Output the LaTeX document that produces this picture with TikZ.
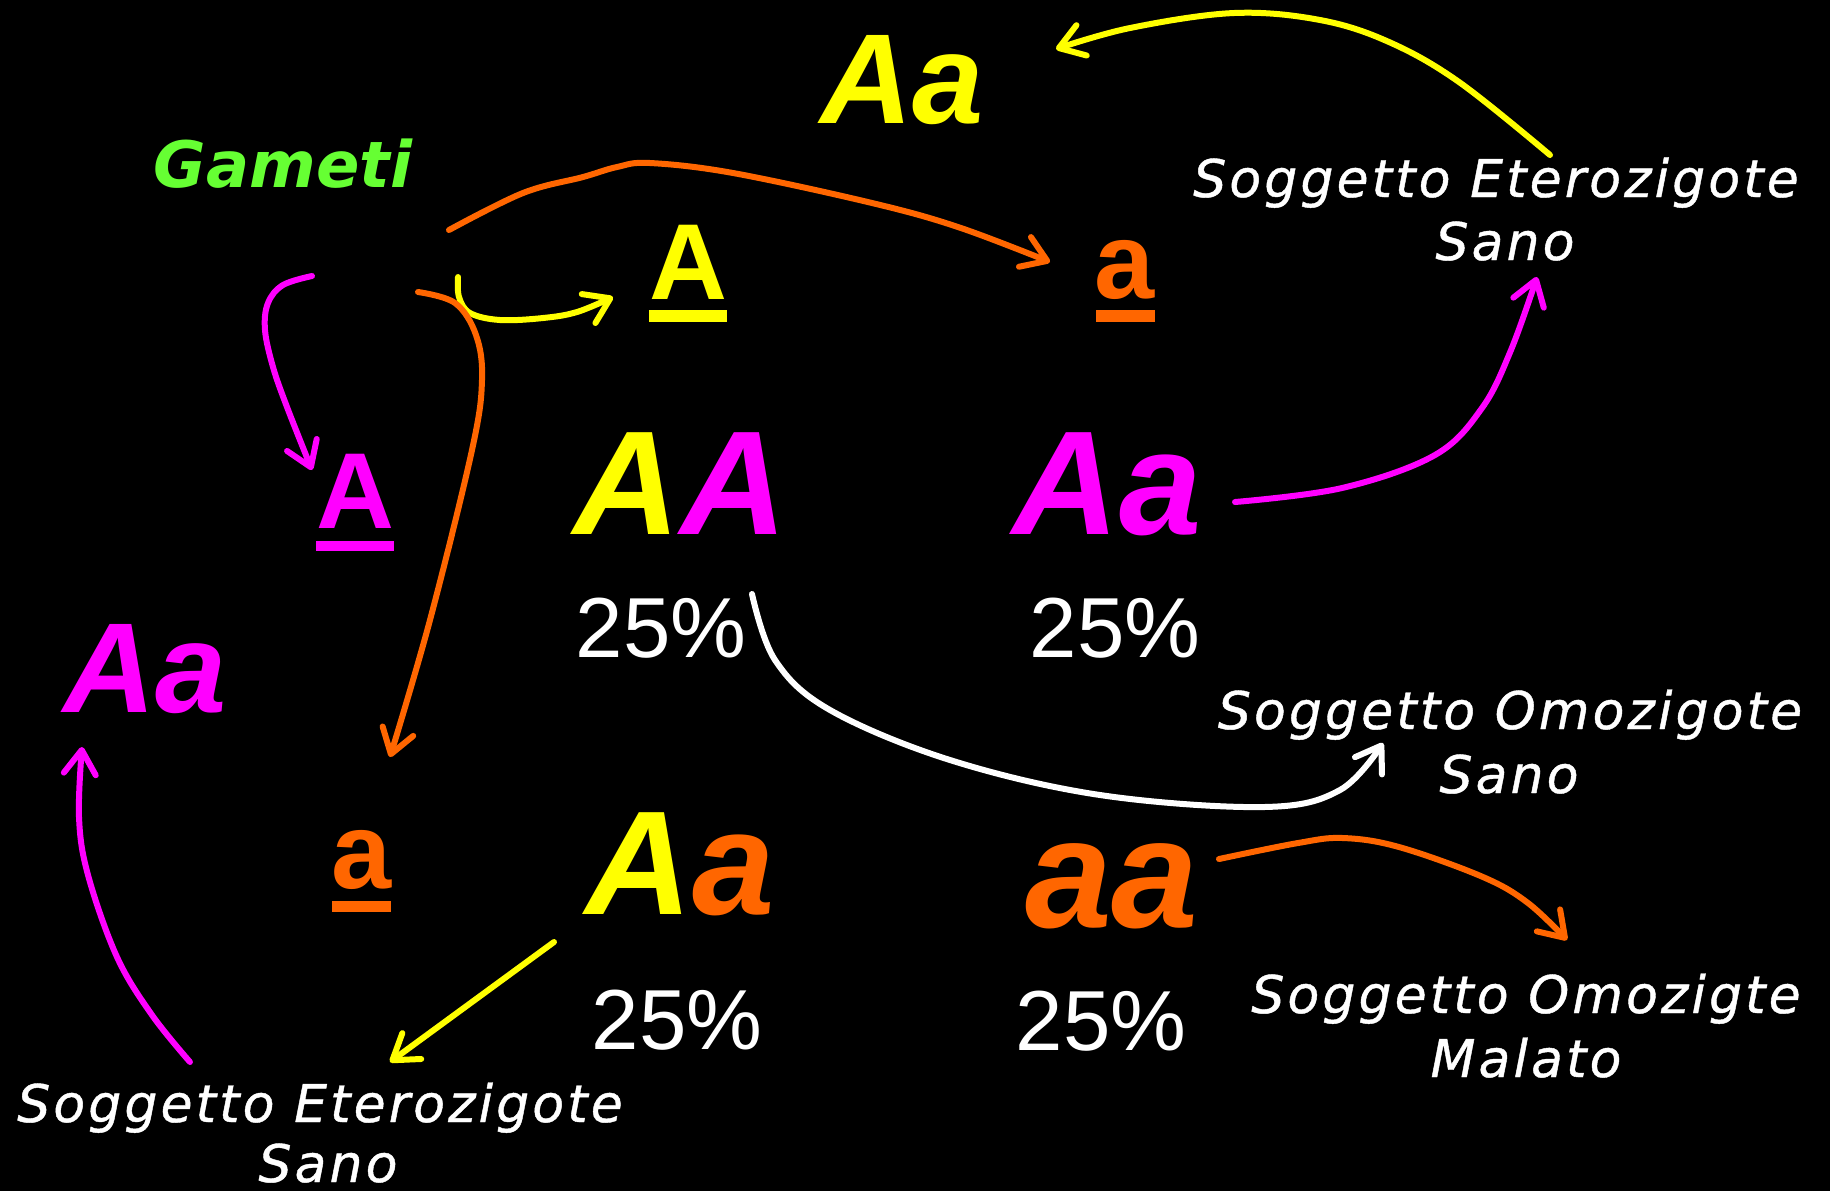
\documentclass[tikz,border=0pt]{standalone}
\usepackage{fontspec}
\setmainfont{Liberation Sans}
\newfontfamily\labfont[LetterSpace=6,FakeBold=0.8]{DejaVu Sans Oblique}
\newfontfamily\gamfont{DejaVu Sans Bold Oblique}
\usetikzlibrary{arrows.meta}
\definecolor{cyel}{HTML}{FFFF00}
\definecolor{cmag}{HTML}{FF00FF}
\definecolor{corg}{HTML}{FF6600}
\definecolor{cgrn}{HTML}{66FF33}
\tikzset{
  big/.style={font=\fontsize{74}{80}\selectfont\bfseries\itshape, inner sep=0pt, anchor=base},
  mid/.style={font=\fontsize{64}{70}\selectfont\bfseries\itshape, inner sep=0pt, anchor=base},
  pct/.style={font=\fontsize{42.6}{48}\selectfont, text=white, inner sep=0pt, anchor=base},
  gam/.style={font=\fontsize{54}{60}\selectfont\bfseries, inner sep=0pt, anchor=base},
  lab/.style={font=\labfont\fontsize{26}{32}\selectfont, text=white, inner sep=0pt, anchor=base},
  arr/.style={line width=3pt, line cap=round, line join=round,
    -{Straight Barb[length=12pt,width=16pt,line cap=round,line join=round]}}
}
\begin{document}
\begin{tikzpicture}[x=0.5pt,y=-0.5pt]
\fill[black] (0,0) rectangle (1830,1191);
\useasboundingbox (0,0) rectangle (1830,1191);

% texts
\node[mid, text=cyel] (topAa) at (902,123) {Aa};
\node[font=\gamfont\fontsize{32}{38}\selectfont, text=cgrn, inner sep=0pt, anchor=base] (gameti) at (283,187) {Gameti};
\node[lab] (l1a) at (1496,197) {Soggetto Eterozigote};
\node[lab] (l1b) at (1505,260) {Sano};

\node[gam, text=cyel] (gA) at (688,299) {A};
\fill[cyel] (649,310) rectangle (727,322);
\node[gam, text=corg] (ga) at (1125,298) {a};
\fill[corg] (1096,310) rectangle (1155,322);

\node[gam, text=cmag] (gA2) at (355,528) {A};
\fill[cmag] (316,541) rectangle (394,551);
\node[gam, text=corg] (ga2) at (362,888) {a};
\fill[corg] (332,901) rectangle (391,912);

\node[big] (AA) at (680,534) {\textcolor{cyel}{A}\textcolor{cmag}{A}};
\node[big, text=cmag] (Aa1) at (1107,534) {Aa};
\node[big] (Aa2) at (680,914) {\textcolor{cyel}{A}\textcolor{corg}{a}};
\node[font=\fontsize{78}{84}\selectfont\bfseries\itshape, inner sep=0pt, anchor=base, text=corg] (aa) at (1112,927) {aa};
\node[mid, text=cmag] (leftAa) at (145,712) {Aa};

\node[pct] (p1) at (661,657) {25\%};
\node[pct] (p2) at (1115,657) {25\%};
\node[pct] (p3) at (677,1049) {25\%};
\node[pct] (p4) at (1101,1050) {25\%};

\node[lab] (l2a) at (1510,729) {Soggetto Omozigote};
\node[lab] (l2b) at (1509,793) {Sano};
\node[lab] (l3a) at (1526,1013) {Soggetto Omozigte};
\node[lab] (l3b) at (1526,1077) {Malato};
\node[lab] (l4a) at (320,1122) {Soggetto Eterozigote};
\node[lab] (l4b) at (328,1182) {Sano};

% connector end points
\coordinate (y1s) at (1550,155); \coordinate (y1e) at (1056,49);
\coordinate (o1s) at (449,230);  \coordinate (o1e) at (1050,262);
\coordinate (m1s) at (312,276);  \coordinate (m1e) at (312,470);
\coordinate (y2s) at (458,277);  \coordinate (y2e) at (613,297);
\coordinate (o2s) at (418,292);  \coordinate (o2e) at (390,757);
\coordinate (m2s) at (1235,502); \coordinate (m2e) at (1537,277);
\coordinate (w1s) at (752,594);  \coordinate (w1e) at (1383,743);
\coordinate (o3s) at (1219,859); \coordinate (o3e) at (1567,940);
\coordinate (y3s) at (554,942);  \coordinate (y3e) at (390,1062);
\coordinate (m3s) at (190,1062); \coordinate (m3e) at (82,747);

% connectors
\draw[arr, cyel] plot[smooth, tension=0.6] coordinates {(y1s) (1459,82) (1389,42) (1320,20) (1234,13) (1130,28) (y1e)};
\draw[arr, corg] plot[smooth, tension=0.6] coordinates {(o1s) (523,193) (583,177) (617,167) (650,163) (733,173) (872,203) (958,227) (o1e)};
\draw[arr, cmag] plot[smooth, tension=0.6] coordinates {(m1s) (283,285) (268,303) (265,330) (273,367) (287,407) (m1e)};
\draw[arr, cyel] plot[smooth, tension=0.6] coordinates {(y2s) (459,297) (470,313) (500,320) (543,318) (577,312) (y2e)};
\draw[arr, corg] plot[smooth, tension=0.6] coordinates {(o2s) (455,303) (476,335) (482,380) (472,450) (430,620) (o2e)};
\draw[arr, cmag] plot[smooth, tension=0.6] coordinates {(m2s) (1342,488) (1435,455) (1482,408) (1511,350) (m2e)};
\draw[arr, white] plot[smooth, tension=0.6] coordinates {(w1s) (775,660) (830,710) (950,760) (1100,795) (1264,807) (1340,790) (w1e)};
\draw[arr, corg] plot[smooth, tension=0.6] coordinates {(o3s) (1298,843) (1343,838) (1399,847) (1483,877) (1528,903) (o3e)};
\draw[arr, cyel] (y3s) -- (y3e);
\draw[arr, cmag] plot[smooth, tension=0.6] coordinates {(m3s) (152,1015) (117,957) (88,875) (79,817) (m3e)};
\end{tikzpicture}
\end{document}
